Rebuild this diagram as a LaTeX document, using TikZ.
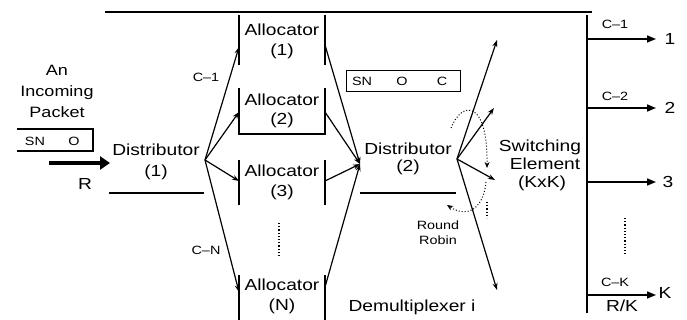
\documentclass[tikz,border=0pt]{standalone}
\usepackage{fontspec}
\setmainfont{Liberation Sans}[FakeStretch=1.2]
\usetikzlibrary{arrows.meta}
\begin{document}
\begin{tikzpicture}[x=1pt,y=-1pt,
  lbl/.style={font=\fontsize{16}{19}\selectfont, inner sep=0pt},
  pkt/.style={font=\fontsize{15}{21}\selectfont, inner sep=0pt, align=center},
  sml/.style={font=\fontsize{12}{14}\selectfont, inner sep=0pt},
  wire/.style={line width=1.2pt},
  arr/.style={wire, -{Stealth[length=7pt,width=5pt]}},
  outarr/.style={line width=1.6pt, -{Triangle[length=9pt,width=7pt]}},
  dots/.style={line width=1.2pt, dotted},
]
\useasboundingbox (0,0) rectangle (687,320);

% demultiplexer outline
\draw[wire] (105,12) -- (592,12);

% incoming packet
\node[pkt] (pkt) at (57,91) {An\\Incoming\\Packet};
\draw[wire] (17,129) -- (93,129) -- (93,151) -- (17,151);
\node[sml] (psn) at (35,141) {SN};
\node[sml] (po) at (74,141) {O};
\coordinate (pin) at (49,163);
\coordinate (d1in) at (110,163);
\draw[line width=4.5pt, -{Triangle[length=10pt,width=13pt]}] (pin) -- (d1in);
\node[lbl] (rate) at (85,184) {R};

% distributor (1)
\node[lbl] (d1a) at (156,150) {Distributor};
\node[lbl] (d1b) at (156,172) {(1)};
\coordinate (d1bl) at (109,193);
\coordinate (d1br) at (204,193);
\draw[wire] (d1bl) -- (d1br);
\coordinate (d1) at (205,160);

% allocators
\coordinate (a1in) at (239,47);  \coordinate (a1out) at (325,45);
\coordinate (a2in) at (239,112); \coordinate (a2out) at (325,112);
\coordinate (a3in) at (239,181); \coordinate (a3out) at (325,181);
\coordinate (aNin) at (239,292); \coordinate (aNout) at (325,287);

\draw[wire] (239,15) -- (239,65);  \draw[wire] (325,15) -- (325,65);
\draw[wire] (239,88) -- (239,134) -- (325,134) -- (325,88);
\draw[wire] (239,160) -- (239,205); \draw[wire] (325,160) -- (325,205);
\draw[wire] (239,275) -- (239,320); \draw[wire] (325,275) -- (325,320);

\node[lbl] (al1a) at (282,30) {Allocator};  \node[lbl] (al1b) at (282,51) {(1)};
\node[lbl] (al2a) at (282,100) {Allocator}; \node[lbl] (al2b) at (282,120) {(2)};
\node[lbl] (al3a) at (282,171) {Allocator}; \node[lbl] (al3b) at (282,192) {(3)};
\node[lbl] (alNa) at (282,285) {Allocator}; \node[lbl] (alNb) at (282,306) {(N)};
\draw[dots] (279,223) -- (279,258);

\draw[arr] (d1) -- (a1in);
\draw[arr] (d1) -- (a2in);
\draw[arr] (d1) -- (a3in);
\draw[arr] (d1) -- (aNin);
\node[sml] (c1l) at (206,77) {C–1};
\node[sml] (cNl) at (206,250) {C–N};

% distributor (2)
\coordinate (d2) at (360,164);
\coordinate (d2r) at (457,159);
\draw[arr] (a1out) -- (d2);
\draw[arr] (a2out) -- (d2);
\draw[arr] (a3out) -- (d2);
\draw[arr] (aNout) -- (d2);
\node[lbl] (d2a) at (408,149) {Distributor};
\node[lbl] (d2b) at (408,167) {(2)};
\draw[wire] (360,193) -- (456,193);

\node[draw, line width=1pt, minimum width=114pt, minimum height=21pt, inner sep=0pt] (hdr) at (403,81) {};
\node[sml] (hsn) at (362,81) {SN};
\node[sml] (ho) at (402,81) {O};
\node[sml] (hc) at (442,81) {C};

% fan-out to the switching element
\coordinate (s1) at (497,40);
\coordinate (s2) at (494,108);
\coordinate (s3) at (495,180);
\coordinate (sK) at (497,290);
\draw[arr] (d2r) -- (s1);
\draw[arr] (d2r) -- (s2);
\draw[arr] (d2r) -- (s3);
\draw[arr] (d2r) -- (sK);
\draw[dots] (487,202) -- (487,218);

% round robin pointer
\draw[line width=1pt, dotted, -{Stealth[length=6pt,width=5pt]}]
  (451,128) .. controls (462,100) and (488,100) .. (487,168);
\draw[line width=1pt, dotted, -{Stealth[length=6pt,width=5pt]}]
  (486,182) .. controls (484,205) and (470,220) .. (447,205);
\node[sml] (rr1) at (438,225) {Round};
\node[sml] (rr2) at (438,240) {Robin};

\node[lbl] (dmx) at (412,307) {Demultiplexer i};

% switching element
\node[lbl] (sw1) at (540,147) {Switching};
\node[lbl] (sw2) at (545,164) {Element};
\node[lbl] (sw3) at (542,183) {(KxK)};
\draw[wire] (587,15) -- (587,313);

\coordinate (o1) at (587,39);  \coordinate (e1) at (656,39);
\coordinate (o2) at (587,108); \coordinate (e2) at (656,108);
\coordinate (o3) at (587,182); \coordinate (e3) at (656,182);
\coordinate (oK) at (587,295); \coordinate (eK) at (656,295);
\draw[outarr] (o1) -- (e1);
\draw[outarr] (o2) -- (e2);
\draw[outarr] (o3) -- (e3);
\draw[outarr] (oK) -- (eK);
\node[lbl] (n1) at (670,39) {1};
\node[lbl] (n2) at (670,108) {2};
\node[lbl] (n3) at (668,182) {3};
\node[lbl] (nK) at (665,293) {K};
\node[sml] (c1r) at (615,24) {C–1};
\node[sml] (c2r) at (615,96) {C–2};
\node[sml] (cKr) at (615,282) {C–K};
\node[lbl] (rk) at (622,306) {R/K};
\draw[dots] (625,218) -- (625,255);
\end{tikzpicture}
\end{document}
